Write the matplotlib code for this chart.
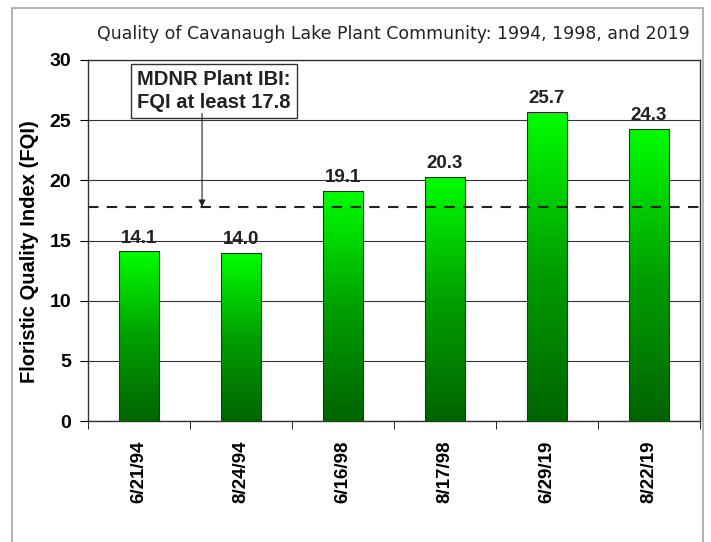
import numpy as np
import matplotlib.pyplot as plt
from matplotlib.colors import LinearSegmentedColormap
from matplotlib.patches import Rectangle

# chart data
dates = ['6/21/94', '8/24/94', '6/16/98', '8/17/98', '6/29/19', '8/22/19']
fqi = [14.1, 14.0, 19.1, 20.3, 25.7, 24.3]
threshold = 17.8

plt.rcParams['font.family'] = ['Liberation Sans', 'DejaVu Sans']

fig = plt.figure(figsize=(7.11, 5.42), dpi=100)
ax = fig.add_axes([0.1238, 0.2232, 0.8607, 0.6661])

# grey border round the whole figure
fig.patches.append(Rectangle((12 / 711, -0.05), 691 / 711, 1.05 - 8 / 542,
                             transform=fig.transFigure, fill=False,
                             edgecolor='#a6a6a6', linewidth=1.2))

x = np.arange(len(dates))
bars = ax.bar(x, fqi, width=0.4, color='none', edgecolor='#1a3a1a',
              linewidth=0.8, zorder=3)

# vertical green gradient inside each bar
cmap = LinearSegmentedColormap.from_list('grn', ['#006400', '#00a000', '#00ff00'])
grad = np.linspace(0, 1, 256).reshape(-1, 1)
for b, v in zip(bars, fqi):
    im = ax.imshow(grad, cmap=cmap, origin='lower', aspect='auto',
                   extent=[b.get_x(), b.get_x() + b.get_width(), 0, v], zorder=2)
    im.set_clip_path(b)
    ax.text(b.get_x() + b.get_width() / 2, v + 0.4, f'{v:.1f}', ha='center',
            va='bottom', fontsize=13.5, fontweight='bold', color='#222222')

ax.set_xlim(-0.5, len(dates) - 0.5)
ax.set_ylim(0, 30)
ax.set_yticks(range(0, 31, 5))
ax.set_yticklabels([str(t) for t in range(0, 31, 5)], fontsize=14, fontweight='bold')
ax.yaxis.grid(True, color='#333333', linewidth=0.8, zorder=0)
ax.set_axisbelow(True)

ax.set_xticks(x)
ax.set_xticklabels(dates, rotation=90, fontsize=13.5, fontweight='bold')
ax.set_xticks(np.arange(-0.5, len(dates)), minor=True)
ax.tick_params(axis='x', which='major', length=0, pad=14)
ax.tick_params(axis='x', which='minor', length=6, direction='out')
ax.tick_params(axis='y', length=6, direction='out', pad=6)

for s in ax.spines.values():
    s.set_color('#333333')
    s.set_linewidth(1.0)

ax.axhline(threshold, color='#222222', linestyle=(0, (5, 4)), linewidth=1.5, zorder=4)

ax.set_ylabel('Floristic Quality Index (FQI)', fontsize=14.5, fontweight='bold')
ax.yaxis.set_label_coords(-0.08, 0.47)

# label box and arrow down to the dashed line
ax.text(0.735, 27.45, 'MDNR Plant IBI:\nFQI at least 17.8', ha='center', va='center',
        fontsize=14.5, fontweight='bold', color='#222222', linespacing=1.25, zorder=5,
        bbox=dict(boxstyle='square,pad=0.3', facecolor='white', edgecolor='#333333', lw=1))
ax.annotate('', xy=(0.618, threshold), xytext=(0.618, 25.55),
            arrowprops=dict(arrowstyle='-|>', color='#222222', lw=0.8,
                            mutation_scale=10, shrinkA=0, shrinkB=0), zorder=5)

fig.text(0.553, 0.938, 'Quality of Cavanaugh Lake Plant Community: 1994, 1998, and 2019',
         ha='center', va='center', fontsize=12.5, family=['DejaVu Sans'], color='#222222')

fig.savefig('out.png', dpi=100)
